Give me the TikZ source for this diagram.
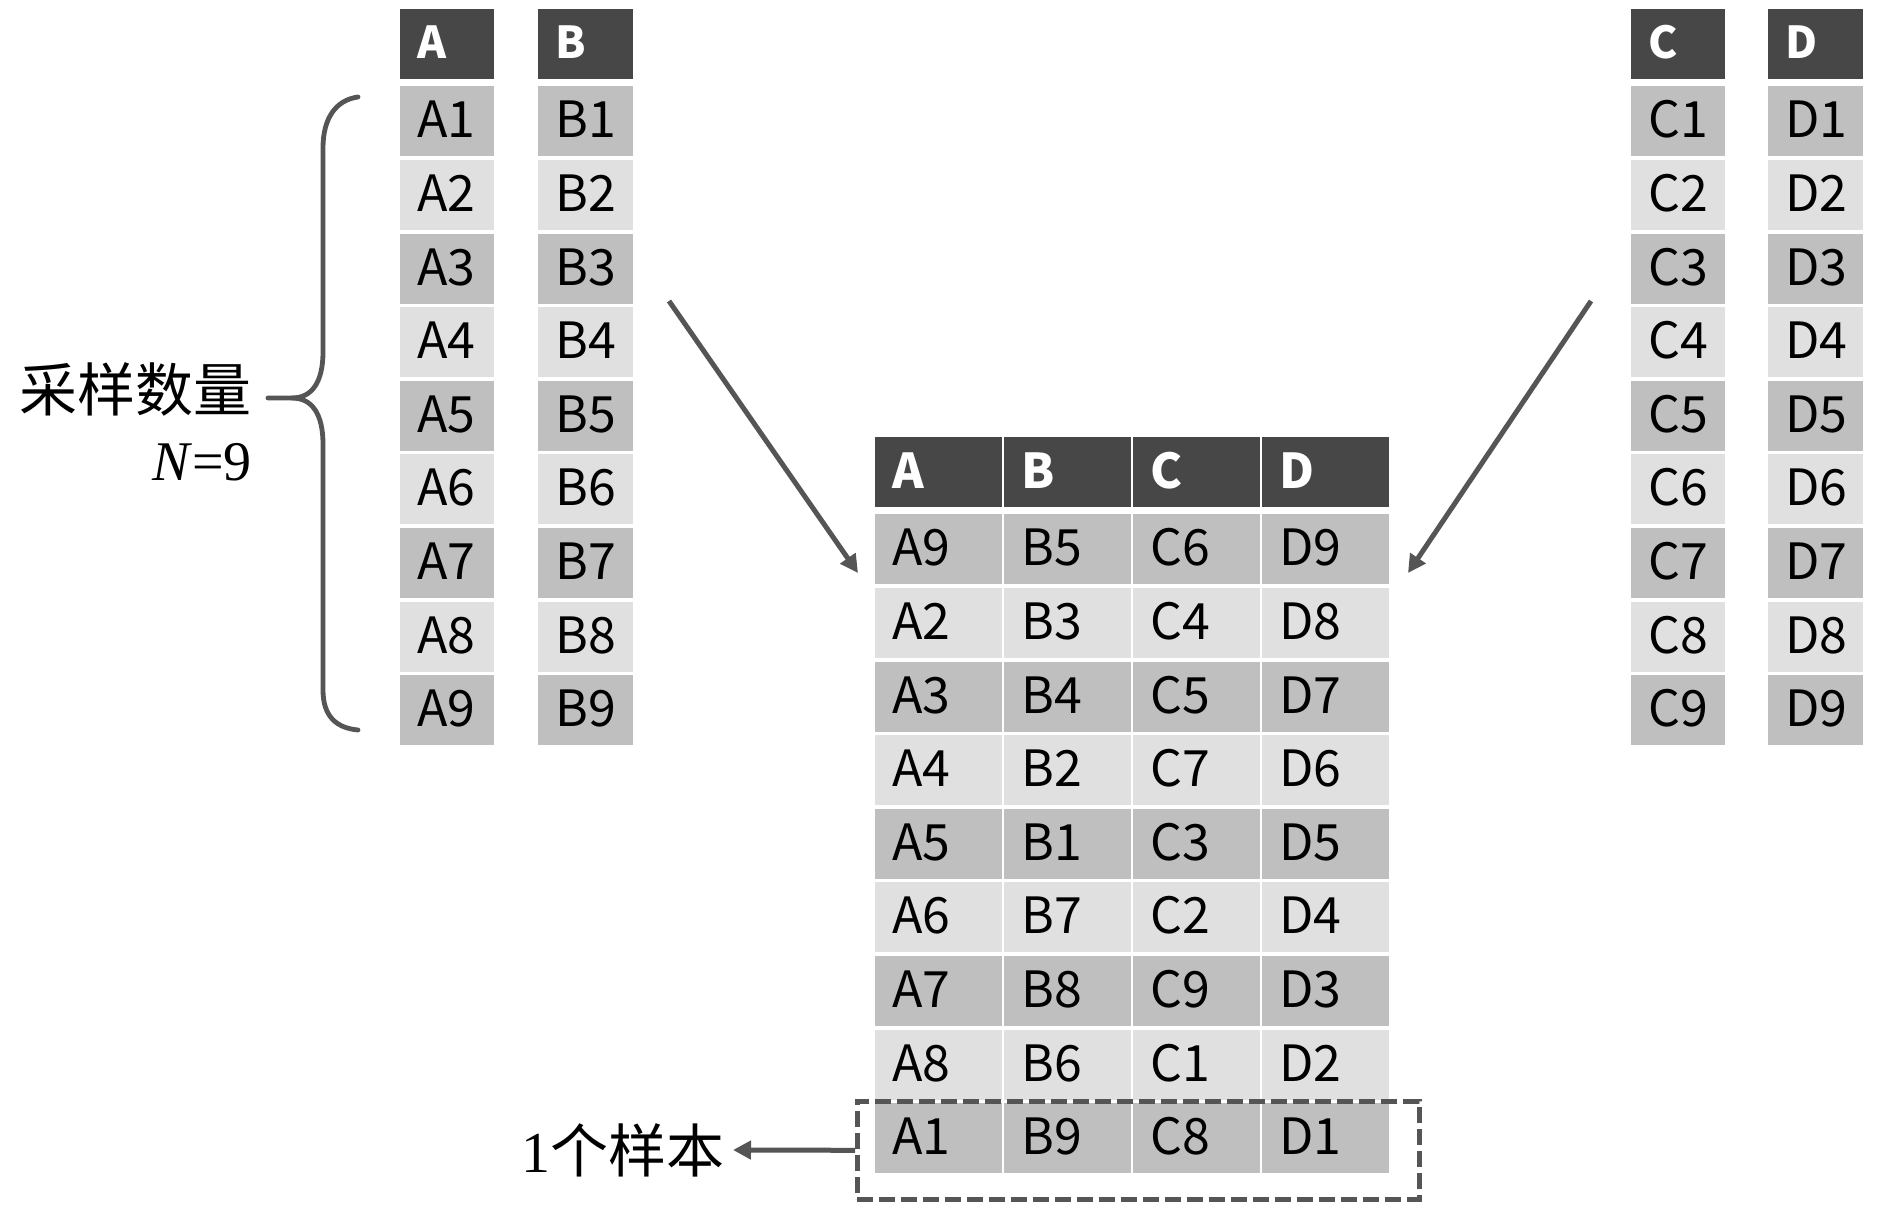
\documentclass[tikz,border=0pt]{standalone}
\usepackage{fontspec}
\setmainfont{Liberation Serif}
\newfontfamily\cellfont{Noto Sans CJK SC}
\newfontfamily\cjk{Noto Sans CJK SC}
\usetikzlibrary{arrows.meta}
\definecolor{hdr}{HTML}{474747}
\definecolor{drk}{HTML}{BFBFBF}
\definecolor{lgt}{HTML}{E0E0E0}
\definecolor{arr}{HTML}{555555}
\begin{document}
\begin{tikzpicture}[x=0.5pt,y=-0.5pt,
  cellbase/.style={rectangle, anchor=north west, inner xsep=8.5pt, inner ysep=0pt,
    minimum height=35pt, align=left, text depth=0pt},
  cell/.style={cellbase, fill=#1, text=black, font=\cellfont\fontsize{25}{25}\selectfont, text height=16.5pt},
  hcell/.style={cellbase, fill=hdr, text=white, font=\cellfont\bfseries\fontsize{#1}{#1}\selectfont, text height=0.66*#1pt},
  conn/.style={draw=arr, line width=2.5pt, -{Triangle[length=9pt,width=9pt]}},
  lbl/.style={font=\cjk\fontsize{29}{29}\selectfont, inner sep=0pt}
]
\useasboundingbox (0,0) rectangle (1890,1209);
% side columns
\foreach \col/\x/\w in {A/400/94, B/538/95, C/1631/94, D/1768/95} {
  \node[hcell=22, minimum width={\w*0.5pt}, text width={\w*0.5pt-17pt}] (l\col0) at (\x,9) {\col};
  \foreach \i/\fc in {1/drk,2/lgt,3/drk,4/lgt,5/drk,6/lgt,7/drk,8/lgt,9/drk} {
    \node[cell=\fc, minimum width={\w*0.5pt}, text width={\w*0.5pt-17pt}] (l\col\i) at (\x,{86+(\i-1)*73.6}) {\col\i};
  }
}
% center table
\foreach \cx/\cn in {875/A, 1004/B, 1133/C, 1262/D} {
  \node[hcell=24, minimum width=63.5pt, text width=46.5pt] (c\cn0) at (\cx,437) {\cn};
}
\foreach \r/\fc/\a/\b/\c/\d in {1/drk/A9/B5/C6/D9, 2/lgt/A2/B3/C4/D8, 3/drk/A3/B4/C5/D7,
  4/lgt/A4/B2/C7/D6, 5/drk/A5/B1/C3/D5, 6/lgt/A6/B7/C2/D4, 7/drk/A7/B8/C9/D3,
  8/lgt/A8/B6/C1/D2, 9/drk/A1/B9/C8/D1} {
  \foreach \cx/\cn/\t in {875/A/\a, 1004/B/\b, 1133/C/\c, 1262/D/\d} {
    \node[cell=\fc, minimum width=63.5pt, text width=46.5pt] (c\cn\r) at (\cx,{514+(\r-1)*73.6}) {\t};
  }
}
% brace
\draw[arr, line width=2.4pt, line cap=round]
  (358,97) .. controls (336,100) and (323,118) .. (323,148)
  -- (323,352) .. controls (323,382) and (312,398) .. (292,398) -- (268,398);
\draw[arr, line width=2.4pt, line cap=round]
  (292,398) .. controls (312,398) and (323,414) .. (323,444)
  -- (323,690) .. controls (323,716) and (336,728) .. (358,730);
\node[lbl, anchor=east] (lab) at (252,389) {采样数量};
\node[font=\fontsize{28}{28}\selectfont, inner sep=0pt, anchor=base east] (nlab) at (252,480) {\textit{N}=9};
% arrows into center table
\coordinate (la0) at (669,301);
\coordinate (la1) at (858,573);
\coordinate (ra0) at (1591,301);
\coordinate (ra1) at (1408,573);
\draw[conn] (la0) -- (la1);
\draw[conn] (ra0) -- (ra1);
% dashed box and sample label
\node[draw=arr, line width=2.3pt, dash pattern=on 8pt off 3pt, rectangle, inner sep=0pt,
  anchor=north west, minimum width=281pt, minimum height=49pt] (sbox) at (855,1099) {};
\node[lbl, anchor=east] (slab) at (725,1150) {{\fontspec{Liberation Serif}1}个样本};
\draw[conn] (sbox.west) -- (slab.east -| 733,0);
\end{tikzpicture}
\end{document}
